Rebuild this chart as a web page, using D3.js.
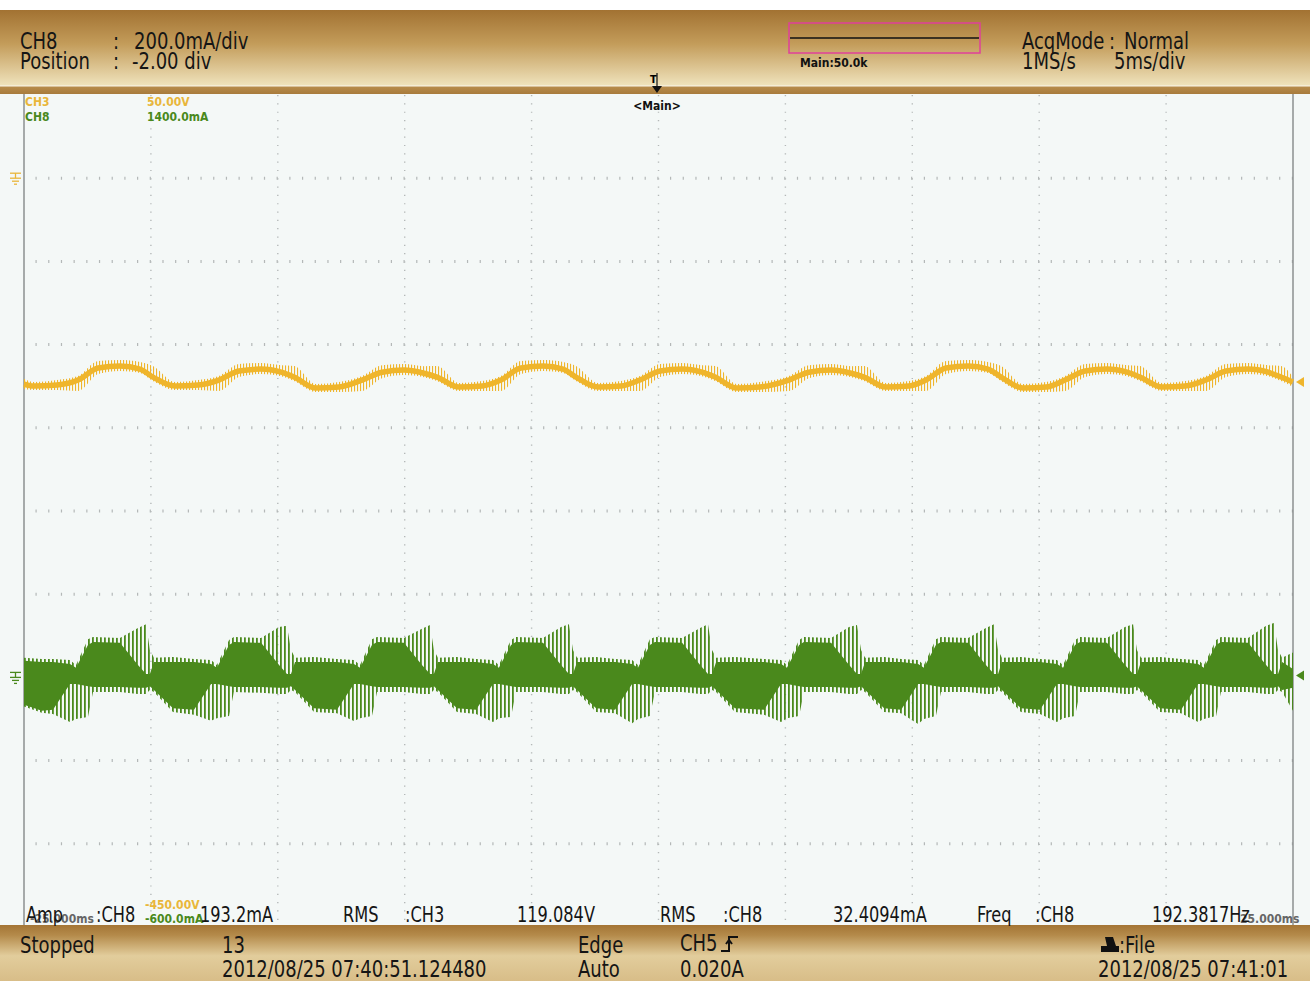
<!DOCTYPE html>
<html>
<head>
<meta charset="utf-8">
<style>
    body { margin: 0; background: #fff; }
    svg text { font-family: 'Liberation Sans Narrow', 'DejaVu Sans Condensed', 'Arial Narrow', sans-serif; }
    .big { font-size: 20px; fill: #151515; }
    .meas { font-size: 18px; fill: #151515; }
    .small { font-size: 12px; font-weight: bold; }
    .grid { stroke: #b4b8b8; fill: none; }
</style>
</head>
<body>
<svg id="scope" width="1310" height="981"></svg>

<script src="https://cdn.jsdelivr.net/npm/d3@7"></script>
<script>
// time in ms (5 ms/div, trigger at 0), CH3 in volts, CH8 in mA
let ch3Time = [-25.00, -24.61, -23.70,
    -22.87, -22.08, -21.22, -20.43, -19.92, -19.05, -18.14,
    -17.32, -16.53, -15.66, -14.87, -14.36, -13.50, -12.59,
    -11.68, -10.89, -10.03, -9.24, -8.73, -7.86, -6.95,
    -6.21, -5.42, -4.55, -3.76, -3.25, -2.38, -1.48,
    -0.73, 0.06, 0.93, 1.71, 2.23, 3.09, 4.00,
    5.14, 5.93, 6.80, 7.59, 8.10, 8.96, 9.87,
    10.54, 11.33, 12.20, 12.98, 13.50, 14.36, 15.27,
    16.02, 16.81, 17.67, 18.46, 18.97, 19.84, 20.75,
    21.57, 22.36, 23.23, 24.02, 24.53, 25.00]
let ch3Volts = [-123.7, -124.9, -124.3,
    -121.3, -114.1, -112.9, -114.7, -119.5, -124.9, -124.3,
    -121.3, -115.9, -114.7, -116.6, -119.5, -126.1, -125.5,
    -121.3, -116.6, -115.3, -117.2, -119.5, -125.5, -124.9,
    -121.3, -114.1, -112.9, -114.7, -119.5, -125.5, -124.9,
    -121.3, -115.9, -114.7, -116.6, -119.5, -126.1, -125.5,
    -121.3, -116.6, -115.3, -117.2, -119.5, -125.5, -124.9,
    -121.3, -114.1, -112.9, -114.7, -119.5, -126.1, -125.5,
    -121.3, -115.9, -114.7, -116.6, -119.5, -125.5, -124.9,
    -121.3, -115.9, -114.7, -116.6, -119.5, -122.5]
let ch3RippleUp = [3.0, 2.4, 3.0,
    2.4, 4.2, 3.6, 4.2, 6.6, 2.4, 3.0,
    2.4, 4.2, 3.6, 4.2, 6.6, 2.4, 3.0,
    2.4, 4.2, 3.6, 4.2, 6.6, 2.4, 3.0,
    2.4, 4.2, 3.6, 4.2, 6.6, 2.4, 3.0,
    2.4, 4.2, 3.6, 4.2, 6.6, 2.4, 3.0,
    2.4, 4.2, 3.6, 4.2, 6.6, 2.4, 3.0,
    2.4, 4.2, 3.6, 4.2, 6.6, 2.4, 3.0,
    2.4, 4.2, 3.6, 4.2, 6.6, 2.4, 3.0,
    2.4, 4.2, 3.6, 4.2, 6.6, 3.0]
let ch3RippleDown = [3.0, 2.4, 3.0,
    6.6, 3.6, 3.0, 2.4, 2.4, 2.4, 3.0,
    6.6, 3.6, 3.0, 2.4, 2.4, 2.4, 3.0,
    6.6, 3.6, 3.0, 2.4, 2.4, 2.4, 3.0,
    6.6, 3.6, 3.0, 2.4, 2.4, 2.4, 3.0,
    6.6, 3.6, 3.0, 2.4, 2.4, 2.4, 3.0,
    6.6, 3.6, 3.0, 2.4, 2.4, 2.4, 3.0,
    6.6, 3.6, 3.0, 2.4, 2.4, 2.4, 3.0,
    6.6, 3.6, 3.0, 2.4, 2.4, 2.4, 3.0,
    6.6, 3.6, 3.0, 2.4, 2.4, 3.0]

// CH8 switching current: solid core band and outer spike envelope
let ch8Time = [-25.00, -24.30,
    -23.86, -23.19, -22.95, -22.48, -22.28, -21.22, -20.51, -20.19, -20.04, -19.88, -19.13,
    -18.30, -17.63, -17.40, -16.92, -16.73, -15.66, -14.95, -14.64, -14.48, -14.32, -13.57,
    -12.67, -12.00, -11.76, -11.29, -11.09, -10.03, -9.32, -9.00, -8.85, -8.69, -7.94,
    -7.19, -6.52, -6.29, -5.81, -5.62, -4.55, -3.84, -3.53, -3.37, -3.21, -2.46,
    -1.71, -1.04, -0.81, -0.34, -0.14, 0.93, 1.64, 1.95, 2.11, 2.27, 3.01,
    4.16, 4.83, 5.06, 5.54, 5.73, 6.80, 7.51, 7.82, 7.98, 8.14, 8.89,
    9.56, 10.23, 10.46, 10.93, 11.13, 12.20, 12.90, 13.22, 13.38, 13.53, 14.28,
    15.03, 15.70, 15.94, 16.41, 16.61, 17.67, 18.38, 18.70, 18.85, 19.01, 19.76,
    20.59, 21.26, 21.49, 21.97, 22.16, 23.23, 23.94, 24.25, 24.41, 24.57, 25.00]
let ch8CoreHi = [40, 37,
    37, 32, 23, 78, 85, 83, 30, 8, 8, 37, 37,
    37, 32, 23, 78, 85, 83, 30, 8, 8, 37, 37,
    37, 32, 23, 78, 85, 83, 30, 8, 8, 37, 37,
    37, 32, 23, 78, 85, 83, 30, 8, 8, 37, 37,
    37, 32, 23, 78, 85, 83, 30, 8, 8, 37, 37,
    37, 32, 23, 78, 85, 83, 30, 8, 8, 37, 37,
    37, 32, 23, 78, 85, 83, 30, 8, 8, 37, 37,
    37, 32, 23, 78, 85, 83, 30, 8, 8, 37, 37,
    37, 32, 23, 78, 85, 83, 30, 8, 8, 37, 20]
let ch8CoreLo = [-66, -80,
    -78, -16, -16, -21, -23, -23, -25, -25, -21, -30, -74,
    -78, -16, -16, -21, -23, -23, -25, -25, -21, -30, -74,
    -78, -16, -16, -21, -23, -23, -25, -25, -21, -30, -74,
    -78, -16, -16, -21, -23, -23, -25, -25, -21, -30, -74,
    -78, -16, -16, -21, -23, -23, -25, -25, -21, -30, -74,
    -78, -16, -16, -21, -23, -23, -25, -25, -21, -30, -74,
    -78, -16, -16, -21, -23, -23, -25, -25, -21, -30, -74,
    -78, -16, -16, -21, -23, -23, -25, -25, -21, -30, -74,
    -78, -16, -16, -21, -23, -23, -25, -25, -21, -30, -25]
let ch8SpikeHi = [47, 44,
    44, 42, 30, 92, 97, 95, 119, 128, 66, 47, 49,
    44, 42, 30, 90, 97, 95, 121, 124, 66, 47, 49,
    44, 42, 30, 92, 97, 95, 117, 126, 66, 47, 49,
    44, 42, 30, 90, 97, 95, 121, 128, 66, 47, 49,
    44, 42, 30, 92, 97, 95, 119, 128, 66, 47, 49,
    44, 42, 30, 90, 97, 95, 121, 126, 66, 47, 49,
    44, 42, 30, 92, 97, 95, 119, 128, 66, 47, 49,
    44, 42, 30, 90, 97, 95, 121, 128, 66, 47, 49,
    44, 42, 30, 90, 97, 95, 124, 131, 66, 47, 60]
let ch8SpikeLo = [-70, -85,
    -88, -107, -100, -95, -35, -35, -40, -40, -30, -35, -83,
    -90, -104, -98, -93, -35, -37, -40, -40, -30, -35, -83,
    -86, -105, -98, -93, -35, -35, -40, -40, -30, -35, -83,
    -88, -107, -98, -95, -35, -35, -40, -40, -30, -35, -83,
    -86, -110, -100, -93, -35, -35, -40, -40, -30, -35, -83,
    -90, -107, -98, -93, -35, -35, -40, -40, -30, -35, -83,
    -86, -112, -100, -93, -35, -35, -40, -40, -30, -35, -83,
    -88, -107, -98, -93, -35, -35, -40, -40, -30, -35, -83,
    -86, -107, -100, -93, -35, -35, -40, -40, -30, -35, -80]

let timeDivs = d3.range(-25, 25.01, 5)
let voltDivs = d3.range(-450, 50.01, 50)

let svg = d3.select("#scope")
let defs = svg.append("defs")

let x = d3.scaleLinear().domain([-25, 25]).range([24, 1293])
let y3 = d3.scaleLinear().domain([-450, 50]).range([927, 95])
let y8 = d3.scaleLinear().domain([-600, 1400]).range([927, 95])

function vgrad(id, stops) {
    let g = defs.append("linearGradient").attr("id", id)
        .attr("x1", 0).attr("y1", 0).attr("x2", 0).attr("y2", 1)
    stops.forEach(s => g.append("stop").attr("offset", s[0]).attr("stop-color", s[1]))
}
vgrad("hdr", [[0, "#a27232"], [0.45, "#c39c5a"], [1, "#efe2bb"]])
vgrad("band", [[0, "#b88c4c"], [1, "#a87b3c"]])
vgrad("ftr", [[0, "#a47535"], [0.18, "#b48a4a"], [0.55, "#e2cd9c"], [1, "#d8bd88"]])

let p8 = defs.append("pattern").attr("id", "spk8").attr("patternUnits", "userSpaceOnUse")
    .attr("width", 4).attr("height", 20)
p8.append("rect").attr("width", 1.8).attr("height", 20).attr("fill", "#4a891c")
let p3 = defs.append("pattern").attr("id", "spk3").attr("patternUnits", "userSpaceOnUse")
    .attr("width", 3).attr("height", 20)
p3.append("rect").attr("width", 1.1).attr("height", 20).attr("fill", "#efb52c")

// frame
svg.append("rect").attr("x", 0).attr("y", 94).attr("width", 1310).attr("height", 832).attr("fill", "#f4f8f7")
svg.append("rect").attr("x", 0).attr("y", 10).attr("width", 1310).attr("height", 75).attr("fill", "url(#hdr)")
svg.append("rect").attr("x", 0).attr("y", 85).attr("width", 1310).attr("height", 1.5).attr("fill", "#f5edd6")
svg.append("rect").attr("x", 0).attr("y", 86.5).attr("width", 1310).attr("height", 7.5).attr("fill", "url(#band)")

// grid
let grid = svg.append("g")
timeDivs.slice(1, -1).forEach(t => {
    grid.append("line").attr("class", "grid")
        .attr("x1", x(t)).attr("x2", x(t)).attr("y1", 95).attr("y2", 925)
        .attr("stroke-width", 1.4).attr("stroke-dasharray", "1.2 7.12")
})
voltDivs.slice(1, -1).forEach(v => {
    grid.append("line").attr("class", "grid")
        .attr("x1", 24).attr("x2", 1293).attr("y1", y3(v)).attr("y2", y3(v))
        .attr("stroke-width", 3).attr("stroke-dasharray", "1.2 11.49")
        .attr("stroke-dashoffset", -11.49)
})
svg.append("line").attr("x1", 24).attr("x2", 24).attr("y1", 94).attr("y2", 926)
    .attr("stroke", "#8d9090").attr("stroke-width", 1.5)
svg.append("line").attr("x1", 1293).attr("x2", 1293).attr("y1", 94).attr("y2", 926)
    .attr("stroke", "#8d9090").attr("stroke-width", 1.5)

// CH3 trace
let ch3 = ch3Time.map((t, i) => ({ t: t, v: ch3Volts[i], up: ch3RippleUp[i], dn: ch3RippleDown[i] }))
svg.append("path").datum(ch3)
    .attr("d", d3.area().curve(d3.curveMonotoneX)
        .x(d => x(d.t)).y0(d => y3(d.v - d.dn)).y1(d => y3(d.v + d.up)))
    .attr("fill", "url(#spk3)")
svg.append("path").datum(ch3)
    .attr("d", d3.line().curve(d3.curveMonotoneX).x(d => x(d.t)).y(d => y3(d.v)))
    .attr("fill", "none").attr("stroke", "#efb52c").attr("stroke-width", 5.5)

// CH8 trace
let ch8 = ch8Time.map((t, i) => ({ t: t, hi: ch8CoreHi[i], lo: ch8CoreLo[i], sh: ch8SpikeHi[i], sl: ch8SpikeLo[i] }))
svg.append("path").datum(ch8)
    .attr("d", d3.area().x(d => x(d.t)).y0(d => y8(d.sl)).y1(d => y8(d.sh)))
    .attr("fill", "url(#spk8)")
svg.append("path").datum(ch8)
    .attr("d", d3.area().x(d => x(d.t)).y0(d => y8(d.lo)).y1(d => y8(d.hi)))
    .attr("fill", "#4a891c")

// ground symbols and level markers
function ground(yy, col) {
    let g = svg.append("g").attr("stroke", col).attr("stroke-width", 1.3).attr("fill", "none")
    g.append("line").attr("x1", 10).attr("x2", 21).attr("y1", yy - 5).attr("y2", yy - 5)
    g.append("line").attr("x1", 15.5).attr("x2", 15.5).attr("y1", yy - 5).attr("y2", yy)
    g.append("line").attr("x1", 10).attr("x2", 21).attr("y1", yy).attr("y2", yy)
    g.append("line").attr("x1", 12).attr("x2", 19).attr("y1", yy + 3).attr("y2", yy + 3)
    g.append("line").attr("x1", 14).attr("x2", 17).attr("y1", yy + 6).attr("y2", yy + 6)
}
ground(y3(0), "#e9b63a")
ground(y8(0), "#4a891c")
svg.append("path").attr("d", `M1296,${y3(-122.5)} l8,-5 v10 z`).attr("fill", "#efb52c")
svg.append("path").attr("d", `M1296,${y8(0) - 2} l8,-5 v10 z`).attr("fill", "#4a891c")

// trigger marker
svg.append("text").attr("x", 650).attr("y", 83).attr("font-size", 11).attr("font-weight", "bold").text("T")
svg.append("line").attr("x1", 657).attr("x2", 657).attr("y1", 73).attr("y2", 88).attr("stroke", "#111").attr("stroke-width", 1.2)
svg.append("path").attr("d", "M652,86 h10 l-5,7 z").attr("fill", "#111")

// footer
svg.append("rect").attr("x", 0).attr("y", 925).attr("width", 1310).attr("height", 56).attr("fill", "url(#ftr)")

// big texts are stretched upward a little (the scope font is narrow and tall)
function txt(xx, yy, s, cls, col) {
    let t = svg.append("text").attr("class", cls).attr("fill", col || null).text(s)
    if (cls == "big" || cls == "meas") {
        t.attr("transform", `translate(${xx},${yy}) scale(1,1.13)`)
    } else {
        t.attr("x", xx).attr("y", yy)
    }
    return t
}

// header text
txt(20, 49, "CH8", "big")
txt(113, 49, ":", "big")
txt(134, 49, "200.0mA/div", "big")
txt(20, 69, "Position", "big")
txt(113, 69, ":", "big")
txt(132, 69, "-2.00 div", "big")
svg.append("rect").attr("x", 789).attr("y", 23).attr("width", 191).attr("height", 30)
    .attr("fill", "none").attr("stroke", "#e0409a").attr("stroke-width", 1.5)
svg.append("line").attr("x1", 790).attr("x2", 979).attr("y1", 38).attr("y2", 38).attr("stroke", "#111").attr("stroke-width", 1.5)
txt(800, 67, "Main:50.0k", "small", "#111")
txt(1022, 49, "AcqMode", "big")
txt(1109, 49, ":", "big")
txt(1124, 49, "Normal", "big")
txt(1022, 69, "1MS/s", "big")
txt(1114, 69, "5ms/div", "big")

// in-plot labels
txt(657, 110, "<Main>", "small", "#111").attr("text-anchor", "middle")
txt(25, 106, "CH3", "small", "#e9b63a")
txt(147, 106, "50.00V", "small", "#e9b63a")
txt(25, 121, "CH8", "small", "#4a891c")
txt(147, 121, "1400.0mA", "small", "#4a891c")

// measurement row
txt(30, 923, "-25.000ms", "small", "#666")
txt(1240, 923, "25.000ms", "small", "#666")
txt(145, 909, "-450.00V", "small", "#e9b63a")
txt(145, 923, "-600.0mA", "small", "#4a891c")
txt(26, 922, "Amp", "meas")
txt(96, 922, ":CH8", "meas")
txt(200, 922, "193.2mA", "meas")
txt(343, 922, "RMS", "meas")
txt(405, 922, ":CH3", "meas")
txt(517, 922, "119.084V", "meas")
txt(660, 922, "RMS", "meas")
txt(723, 922, ":CH8", "meas")
txt(833, 922, "32.4094mA", "meas")
txt(977, 922, "Freq", "meas")
txt(1035, 922, ":CH8", "meas")
txt(1152, 922, "192.3817Hz", "meas")

// footer text
txt(20, 953, "Stopped", "big")
txt(222, 953, "13", "big")
txt(222, 977, "2012/08/25 07:40:51.124480", "big")
txt(578, 953, "Edge", "big")
txt(578, 977, "Auto", "big")
txt(680, 951, "CH5", "big")
svg.append("path").attr("d", "M721,951 h8 v-14 h9 M726,944 l3,-4 l3,4")
    .attr("fill", "none").attr("stroke", "#111").attr("stroke-width", 2)
txt(680, 977, "0.020A", "big")
svg.append("path").attr("d", "M1101,952 h18 v-6 h-3 l-3,-9 h-8 l2,9 h-6 z").attr("fill", "#111")
txt(1119, 953, ":File", "big")
txt(1098, 977, "2012/08/25 07:41:01", "big")
</script>
</body>
</html>
